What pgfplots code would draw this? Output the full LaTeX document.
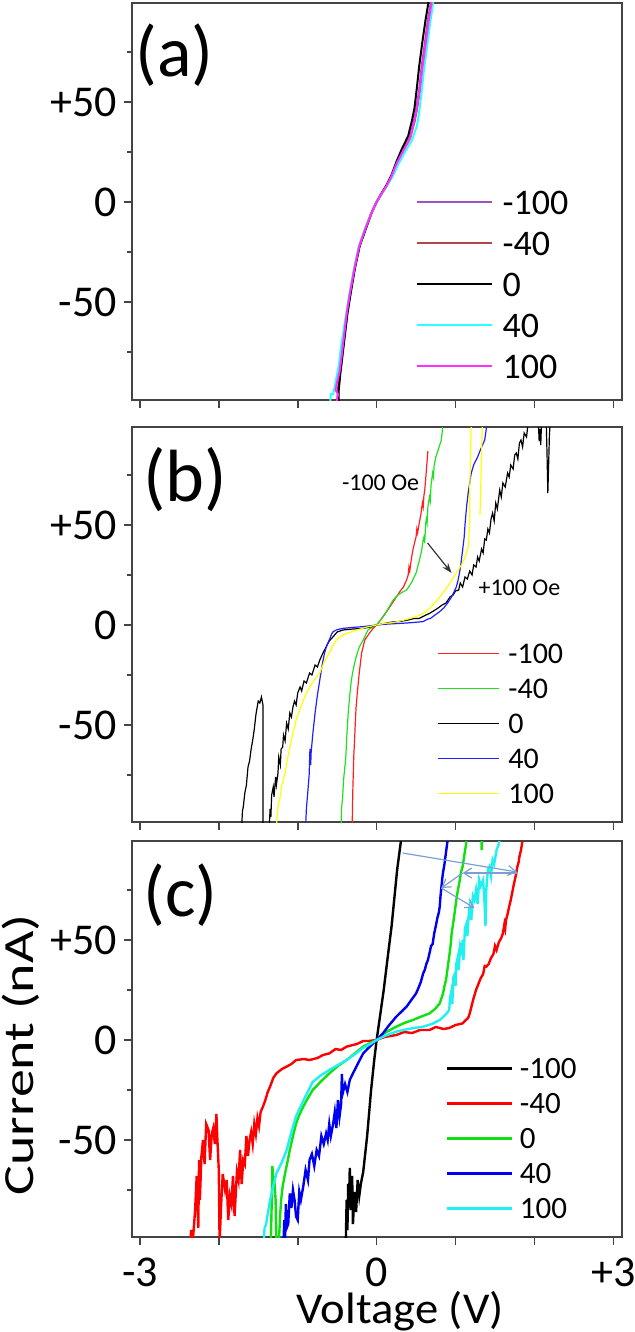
\documentclass[border=0pt]{standalone}
\usepackage{pgfplots}
\pgfplotsset{compat=1.18}
\usepackage{fontspec}
\setmainfont{Carlito}
\usetikzlibrary{arrows.meta}
\definecolor{apurple}{HTML}{A050C0}
\definecolor{abrown}{HTML}{B04848}
\definecolor{acyan}{HTML}{30FFFF}
\definecolor{amag}{HTML}{FF30FF}
\definecolor{bred}{HTML}{FF2020}
\definecolor{bgreen}{HTML}{20E020}
\definecolor{bblue}{HTML}{2020FF}
\definecolor{byellow}{HTML}{FFFF00}
\definecolor{cgreen}{HTML}{10E010}
\definecolor{cblue}{HTML}{0000F0}
\definecolor{ccyan}{HTML}{20F0F0}
\definecolor{arrowblue}{HTML}{7B9FD4}
\definecolor{axisgray}{HTML}{444444}
\tikzset{panellabel/.style={anchor=north west, inner sep=0pt}}
\pgfplotsset{
  panel/.style={
    scale only axis, width=245pt, xmin=-3.1, xmax=3.11,
    anchor=north west,
    axis line style={draw=axisgray, line width=0.8pt},
    every tick/.style={draw=axisgray, line width=0.8pt},
    major tick length=4pt, minor tick length=2.5pt,
    tick align=outside, tick pos=left,
    xtick={-3,-2,-1,0,1,2,3}, xticklabels={},
    ytick={-50,0,50}, yticklabels={-50,0,+50},
    minor ytick={-75,-25,25,75},
    ticklabel style={font=\fontsize{22}{26}\selectfont},
    unbounded coords=jump,
    legend cell align=left,
  },
}
\begin{document}
\begin{tikzpicture}
\useasboundingbox (-66pt,0pt) rectangle (251pt,-666pt);
% ---------------- (a)
\begin{axis}[panel, at={(0pt,-1.5pt)}, height=198.5pt, ymin=-99, ymax=99.5,
  every axis plot/.append style={line width=1pt},
  legend style={at={(0.578,0.529)}, anchor=north west, draw=none, fill=none, inner sep=0pt,
    font=\fontsize{18}{20}\selectfont, row sep=8.5pt, column sep=5pt,
    nodes={inner sep=0pt, text height=12pt, text depth=0pt}},
  legend image code/.code={\draw[#1] (0pt,0pt) -- (37.5pt,0pt);}]
\addplot[apurple] coordinates {(-0.50,-101) (-0.49,-94) (-0.47,-86) (-0.44,-76) (-0.41,-66) (-0.38,-56) (-0.34,-46) (-0.28,-33) (-0.22,-22) (-0.13,-12) (-0.06,-5) (0,0) (0.06,4) (0.12,7.7) (0.19,13) (0.25,19) (0.33,25.5) (0.42,32) (0.47,40) (0.50,46) (0.54,56) (0.57,67.5) (0.61,79) (0.65,91) (0.69,100.5)};
\addlegendentry{-100}
\addplot[abrown] coordinates {(-0.49,-101) (-0.485,-94) (-0.465,-86) (-0.435,-76) (-0.405,-66) (-0.375,-56) (-0.335,-46) (-0.275,-33) (-0.215,-22) (-0.125,-12) (-0.06,-5) (0,0) (0.06,4) (0.12,7.7) (0.19,13) (0.25,19) (0.335,25.5) (0.425,32) (0.48,40) (0.51,46) (0.55,56) (0.58,67.5) (0.62,79) (0.66,91) (0.70,100.5)};
\addlegendentry{-40}
\addplot[black] coordinates {(-0.48,-101) (-0.48,-94) (-0.46,-86) (-0.43,-76) (-0.40,-66) (-0.37,-56) (-0.33,-46) (-0.275,-33) (-0.215,-22) (-0.125,-12) (-0.06,-5) (0,0) (0.06,4.2) (0.12,8) (0.19,13.5) (0.25,20) (0.32,26.5) (0.40,33) (0.45,41) (0.48,47) (0.51,57) (0.54,68) (0.58,80) (0.62,91) (0.66,100.5)};
\addlegendentry{0}
\addplot[acyan] coordinates {(-0.59,-101) (-0.58,-96) (-0.55,-96) (-0.52,-90) (-0.48,-82) (-0.45,-72) (-0.41,-62) (-0.37,-52) (-0.33,-43) (-0.29,-34) (-0.23,-23) (-0.14,-12.5) (-0.06,-5) (0,0) (0.06,3.8) (0.12,7.3) (0.20,12.5) (0.27,18.5) (0.36,25) (0.45,31) (0.51,38) (0.54,45) (0.57,55) (0.60,66) (0.64,78) (0.68,90) (0.72,100.5)};
\addlegendentry{40}
\addplot[amag] coordinates {(-0.51,-101) (-0.49,-96) (-0.52,-94) (-0.50,-90) (-0.47,-85) (-0.44,-76) (-0.41,-66) (-0.38,-56) (-0.34,-46) (-0.28,-33) (-0.22,-22) (-0.13,-12) (-0.06,-5) (0,0) (0.06,4) (0.12,7.7) (0.19,13) (0.25,19) (0.335,25.5) (0.425,32) (0.475,40) (0.505,46) (0.545,56) (0.58,67.5) (0.62,79) (0.66,91) (0.70,100.5)};
\addlegendentry{100}
\node[panellabel, font=\fontsize{36}{40}\selectfont] at (rel axis cs:0,1) [xshift=1.5pt, yshift=-10pt] {(a)};
\end{axis}
% ---------------- (b)
\begin{axis}[panel, at={(0pt,-213.5pt)}, height=197.5pt, ymin=-98.5, ymax=99,
  every axis plot/.append style={line width=0.6pt},
  legend style={at={(0.622,0.453)}, anchor=north west, draw=none, fill=none, inner sep=0pt,
    font=\fontsize{15}{17}\selectfont, row sep=7.5pt, column sep=4.5pt,
    nodes={inner sep=0pt, text height=10pt, text depth=0pt, text=black}},
  legend image code/.code={\draw[#1] (0pt,0pt) -- (30.5pt,0pt);}]
\addplot[bred] coordinates {(-0.31,-101) (-0.305,-90) (-0.30,-80) (-0.295,-74) (-0.29,-66) (-0.28,-58) (-0.27,-49) (-0.26,-41) (-0.24,-32) (-0.22,-24) (-0.19,-14) (-0.15,-7.5) (-0.09,-4) (-0.04,-1.5) (0,0) (0.04,2) (0.08,4.2) (0.15,8) (0.20,11) (0.25,14) (0.30,17) (0.34,19) (0.38,22.5) (0.40,25) (0.41,29) (0.42,27) (0.44,33) (0.46,37.5) (0.48,41) (0.50,44) (0.51,48) (0.52,46) (0.54,51) (0.56,55) (0.58,61) (0.59,59) (0.60,65) (0.61,67.5) (0.62,72) (0.63,77) (0.64,82) (0.65,87)};
\addlegendentry{-100}
\addplot[bgreen] coordinates {(-0.45,-101) (-0.445,-92) (-0.43,-86) (-0.42,-78) (-0.40,-70) (-0.39,-66) (-0.38,-57) (-0.36,-44) (-0.34,-35) (-0.32,-27.5) (-0.29,-21) (-0.26,-16) (-0.22,-11) (-0.17,-7.5) (-0.11,-2.5) (-0.05,-1) (0,0) (0.05,2.5) (0.10,5) (0.15,8.5) (0.21,12.5) (0.27,15) (0.33,16.5) (0.38,17.5) (0.44,21) (0.50,26) (0.54,32) (0.57,37) (0.59,42.5) (0.60,44) (0.61,41) (0.62,50) (0.63,53) (0.64,51) (0.65,59) (0.67,64) (0.68,62) (0.69,70) (0.71,76) (0.72,74) (0.73,80) (0.75,84) (0.78,87.5) (0.80,90) (0.82,92.5) (0.83,96) (0.84,101)};
\addlegendentry{-40}
\addplot[black] coordinates {(-1.36,-101) (-1.35,-92) (-1.34,-96) (-1.33,-85) (-1.31,-81) (-1.30,-86) (-1.28,-76) (-1.27,-80) (-1.25,-74) (-1.24,-66) (-1.22,-70) (-1.21,-62) (-1.19,-61) (-1.18,-55) (-1.16,-58) (-1.14,-49) (-1.12,-52) (-1.10,-44) (-1.08,-46) (-1.06,-41) (-1.04,-38) (-1.02,-40) (-1.00,-34) (-0.97,-31) (-0.95,-33) (-0.92,-28) (-0.89,-29) (-0.85,-24) (-0.82,-25) (-0.78,-20) (-0.75,-21) (-0.72,-17.5) (-0.68,-14) (-0.64,-11) (-0.60,-8) (-0.55,-5.8) (-0.50,-3.5) (-0.43,-2.5) (-0.30,-2) (-0.17,-1.7) (-0.08,-1) (0,0) (0.10,0.8) (0.20,1.5) (0.30,1.8) (0.40,2.5) (0.47,3.2) (0.54,3.3) (0.60,4.5) (0.67,5.8) (0.72,7) (0.78,8.5) (0.83,10) (0.88,11) (0.93,14) (0.97,15) (1.00,17) (1.04,17.5) (1.06,21) (1.09,19) (1.12,24) (1.15,23) (1.18,27) (1.21,25) (1.23,30) (1.26,29) (1.28,34) (1.30,32) (1.33,38) (1.35,36) (1.37,43) (1.39,42.5) (1.41,48) (1.43,46) (1.45,53) (1.47,56) (1.49,52) (1.51,61) (1.53,58) (1.56,67.5) (1.58,64) (1.60,71) (1.63,69) (1.66,76) (1.68,74) (1.70,80) (1.73,78) (1.75,85) (1.77,86) (1.79,83) (1.81,91) (1.83,92.5) (1.85,89) (1.87,96) (1.90,94) (1.92,101) (1.95,nan)
(2.05,101) (2.06,92) (2.07,98) (2.08,90) (2.09,101) (2.12,nan)
(2.15,101) (2.16,85) (2.17,66) (2.18,80) (2.19,95) (2.20,101) (2.25,nan)
(-1.71,-101) (-1.70,-93) (-1.69,-91) (-1.67,-84) (-1.65,-80) (-1.63,-71) (-1.61,-68) (-1.59,-62) (-1.57,-57.5) (-1.55,-52) (-1.53,-45) (-1.52,-42.5) (-1.50,-38) (-1.48,-39) (-1.46,-36) (-1.44,-40) (-1.44,-101)};
\addlegendentry{0}
\addplot[bblue] coordinates {(-0.90,-101) (-0.89,-92) (-0.87,-82.5) (-0.855,-75) (-0.845,-62) (-0.835,-70) (-0.83,-64) (-0.81,-55) (-0.78,-44) (-0.75,-35) (-0.72,-27.5) (-0.69,-20) (-0.66,-14) (-0.63,-10) (-0.60,-7.5) (-0.57,-4.5) (-0.55,-3.3) (-0.50,-2.3) (-0.43,-1.7) (-0.30,-1.2) (-0.17,-0.8) (0,0) (0.15,0.5) (0.30,0.8) (0.45,1.2) (0.59,1.7) (0.64,2.8) (0.69,3.5) (0.74,5) (0.80,6.7) (0.85,8.5) (0.90,11) (0.95,14) (1.01,19) (1.03,22) (1.05,26) (1.07,31) (1.09,37.5) (1.11,44) (1.12,50) (1.14,59) (1.16,66) (1.18,71) (1.20,76) (1.23,80) (1.28,84) (1.32,88) (1.37,92.5) (1.40,101)};
\addlegendentry{40}
\addplot[byellow] coordinates {(-1.27,-101) (-1.26,-95) (-1.24,-88) (-1.23,-87.5) (-1.20,-80) (-1.16,-74) (-1.13,-67) (-1.10,-61) (-1.06,-54) (-1.02,-47.5) (-0.96,-41) (-0.89,-34) (-0.80,-28) (-0.72,-24) (-0.66,-18) (-0.60,-14) (-0.55,-10) (-0.51,-7.5) (-0.45,-5.5) (-0.38,-4.2) (-0.25,-2.5) (-0.12,-1) (0,0) (0.10,0.8) (0.21,1.2) (0.35,2.5) (0.50,4.2) (0.60,6) (0.67,8.3) (0.75,11.5) (0.84,16) (0.92,20.5) (1.01,26) (1.05,28.5) (1.09,31) (1.13,35) (1.16,39) (1.17,45) (1.18,51) (1.18,67.5) (1.19,85) (1.20,101) (1.25,nan)
(1.31,55) (1.32,70) (1.33,85) (1.34,101)};
\addlegendentry{100}
\node[panellabel, font=\fontsize{37}{41}\selectfont] at (rel axis cs:0,1) [xshift=5.5pt, yshift=-10pt] {(b)};
\node[font=\fontsize{12}{14}\selectfont, inner sep=0pt] at (axis cs:0.05,71) {-100 Oe};
\node[font=\fontsize{12}{14}\selectfont, inner sep=0pt] at (axis cs:1.81,18.5) {+100 Oe};
\draw[-{Stealth[length=5pt,width=3.5pt]}, black!80, line width=0.6pt] (axis cs:0.646,41) -- (axis cs:0.95,26);
\end{axis}
% ---------------- (c)
\begin{axis}[panel, at={(0pt,-420.5pt)}, height=198pt, ymin=-98.5, ymax=99.5,
  xticklabels={-3,,,0,,,+3},
  xticklabel style={inner sep=1pt, yshift=-5.5pt},
  xlabel={\scalebox{1.06}[1]{Voltage (V)}}, ylabel={\scalebox{1.3}[1]{Current (nA)}},
  xlabel style={at={(axis description cs:0.547,-0.2172)}, anchor=base, inner sep=0pt, font=\fontsize{22}{26}\selectfont},
  ylabel style={at={(axis description cs:-0.202,0.46)}, anchor=base, font=\fontsize{21.5}{26}\selectfont},
  every axis plot/.append style={line width=1.2pt},
  legend style={at={(0.639,0.452)}, anchor=north west, draw=none, fill=none, inner sep=0pt,
    font=\fontsize{15.5}{17}\selectfont, row sep=7.5pt, column sep=3.5pt,
    nodes={inner sep=0pt, text height=10pt, text depth=0pt}},
  legend image code/.code={\draw[#1] (0pt,0pt) -- (32.5pt,0pt);}]
\addplot[black] coordinates {(-0.39,-101) (-0.38,-80) (-0.37,-95) (-0.36,-72) (-0.35,-82) (-0.34,-64) (-0.33,-85) (-0.31,-68) (-0.30,-92) (-0.28,-76) (-0.26,-86) (-0.24,-70) (-0.22,-78) (-0.20,-72) (-0.17,-66) (-0.12,-48) (-0.07,-25) (-0.03,-10) (0,0) (0.04,11) (0.09,25) (0.13,38) (0.19,57) (0.26,85) (0.31,100) (0.32,102)};
\addlegendentry{-100}
\addplot[red] coordinates {(-2.36,-101) (-2.35,-95) (-2.33,-101) (-2.30,-85) (-2.28,-68) (-2.26,-94) (-2.25,-60) (-2.24,-80) (-2.22,-58) (-2.20,-50) (-2.18,-62) (-2.16,-42) (-2.13,-45) (-2.11,-60) (-2.09,-47) (-2.07,-44) (-2.05,-52) (-2.03,-37) (-2.02,-48) (-2.00,-65) (-1.99,-101) (-1.97,-82) (-1.95,-67) (-1.92,-75) (-1.90,-70) (-1.88,-90) (-1.86,-78) (-1.84,-82) (-1.82,-68) (-1.80,-88) (-1.78,-73) (-1.77,-66) (-1.75,-70) (-1.73,-55) (-1.71,-72) (-1.69,-60) (-1.67,-62) (-1.65,-48) (-1.63,-58) (-1.61,-50) (-1.59,-46) (-1.57,-52) (-1.55,-42) (-1.53,-47) (-1.51,-39) (-1.49,-43) (-1.47,-36) (-1.44,-33.3) (-1.41,-30) (-1.38,-26) (-1.35,-23.3) (-1.31,-19) (-1.27,-16.7) (-1.20,-14.5) (-1.14,-13.3) (-1.08,-12) (-1.02,-10) (-0.92,-9.5) (-0.85,-10) (-0.75,-9) (-0.68,-7.5) (-0.60,-6.7) (-0.52,-4.5) (-0.45,-5) (-0.38,-3.3) (-0.30,-2.5) (-0.25,-2) (-0.17,-0.5) (-0.10,-0.5) (0,0) (0.10,1.5) (0.25,2.5) (0.35,4) (0.45,3.5) (0.55,5) (0.67,5) (0.75,6.5) (0.85,5.5) (0.92,6) (1.00,7.5) (1.09,8.3) (1.13,10) (1.16,11) (1.18,13.3) (1.21,18) (1.23,21) (1.26,25) (1.29,28) (1.32,31) (1.35,33) (1.37,37) (1.39,36.7) (1.42,38) (1.45,41) (1.48,43) (1.50,47) (1.52,45) (1.55,49) (1.58,51) (1.60,53.3) (1.62,58) (1.63,56) (1.64,60) (1.66,63) (1.68,66.7) (1.70,70) (1.72,74) (1.74,78) (1.77,83.3) (1.78,86) (1.80,89) (1.81,91.7) (1.83,95) (1.85,100) (1.86,102)};
\addlegendentry{-40}
\addplot[cgreen] coordinates {(-1.34,-101) (-1.33,-82) (-1.32,-63) (-1.31,-75) (-1.30,-68) (-1.28,-80) (-1.27,-101) (-1.25,nan)
(-1.24,-101) (-1.23,-94) (-1.22,-86) (-1.21,-80) (-1.19,-73) (-1.16,-66.7) (-1.13,-61) (-1.10,-55) (-1.06,-48) (-1.02,-41.7) (-0.98,-37.5) (-0.93,-33.3) (-0.87,-29) (-0.81,-25) (-0.70,-20.5) (-0.60,-16.7) (-0.49,-13) (-0.38,-10) (-0.27,-6.5) (-0.17,-3.3) (-0.08,-1.5) (0,0) (0.08,3) (0.17,5) (0.25,6.7) (0.35,8.5) (0.46,10) (0.55,11.5) (0.67,13.3) (0.74,15.5) (0.80,18.3) (0.84,23) (0.86,27) (0.88,30) (0.90,36) (0.92,41.7) (0.94,48) (0.95,53) (0.97,58.3) (0.99,64) (1.01,70) (1.03,75) (1.05,79) (1.07,84) (1.09,86.7) (1.11,92) (1.13,97) (1.14,100) (1.15,102) (1.2,nan)
(1.33,101) (1.33,95) (1.34,101)};
\addlegendentry{0}
\addplot[cblue] coordinates {(-1.18,-101) (-1.17,-90) (-1.16,-101) (-1.15,-82) (-1.14,-94) (-1.12,-92) (-1.10,-76.7) (-1.08,-84) (-1.06,-75) (-1.04,-80) (-1.02,-88.3) (-1.00,-90) (-0.98,-76) (-0.96,-80) (-0.93,-73.3) (-0.90,-65) (-0.87,-70) (-0.85,-60) (-0.82,-57) (-0.79,-63) (-0.76,-55) (-0.73,-58) (-0.70,-48) (-0.67,-52) (-0.64,-46.7) (-0.62,-50) (-0.60,-42) (-0.58,-48) (-0.55,-41.7) (-0.53,-36) (-0.51,-44) (-0.49,-30) (-0.47,-38.3) (-0.45,-32) (-0.44,-17) (-0.43,-26.7) (-0.40,-22) (-0.37,-26) (-0.34,-20) (-0.30,-16.7) (-0.24,-12) (-0.17,-6.7) (-0.08,-3) (0,0) (0.08,3.3) (0.15,7) (0.25,11.7) (0.31,14) (0.38,16.7) (0.44,20) (0.50,23.3) (0.53,26) (0.56,29) (0.59,33.3) (0.61,35) (0.63,38) (0.65,40) (0.67,43.3) (0.69,47) (0.71,48) (0.73,53.3) (0.75,57) (0.77,61) (0.79,64) (0.80,66.7) (0.81,72) (0.82,76) (0.83,80) (0.84,83.3) (0.86,88) (0.88,94) (0.90,100) (0.91,102)};
\addlegendentry{40}
\addplot[ccyan] coordinates {(-1.43,-101) (-1.42,-94) (-1.40,-92) (-1.38,-87) (-1.35,-80) (-1.31,-73) (-1.27,-66.7) (-1.20,-61) (-1.14,-55) (-1.08,-46) (-1.02,-38) (-0.96,-33) (-0.90,-28) (-0.81,-21) (-0.70,-17.5) (-0.60,-15) (-0.49,-12.5) (-0.38,-10) (-0.27,-7) (-0.17,-4) (-0.08,-2) (0,0) (0.10,2) (0.25,4.2) (0.40,5.5) (0.59,6.7) (0.70,8) (0.80,10) (0.87,12.5) (0.92,15) (0.93,21) (0.95,25) (0.96,18) (0.97,31) (0.99,33) (1.00,27) (1.01,38) (1.03,41.7) (1.04,35) (1.06,47) (1.08,44) (1.09,50) (1.10,40) (1.12,56) (1.14,58.3) (1.15,52) (1.17,64) (1.18,66.7) (1.20,60) (1.22,72) (1.24,70) (1.26,75) (1.28,68) (1.30,80) (1.32,77) (1.35,80) (1.37,67) (1.38,57) (1.39,75) (1.41,85) (1.43,86.7) (1.45,82) (1.47,90) (1.49,88) (1.52,95) (1.54,97) (1.56,100) (1.57,102)};
\addlegendentry{100}
\node[panellabel, font=\fontsize{36}{40}\selectfont] at (rel axis cs:0,1) [xshift=5.5pt, yshift=-11pt] {(c)};
\begin{scope}[arrowblue, line width=0.6pt, -{Straight Barb[length=4pt,width=5pt]}]
\draw (axis cs:0.33,93.5) -- (axis cs:1.78,84);
\draw (axis cs:1.78,83.5) -- (axis cs:1.09,83.5);
\draw (axis cs:1.09,83.5) -- (axis cs:0.82,76);
\draw (axis cs:0.82,76) -- (axis cs:1.24,66);
\end{scope}
\end{axis}
\end{tikzpicture}
\end{document}
